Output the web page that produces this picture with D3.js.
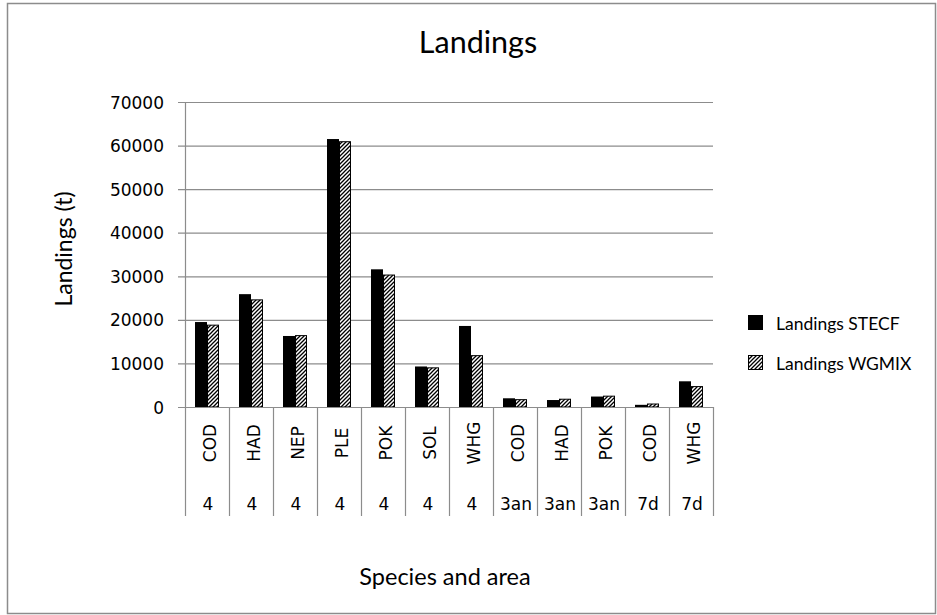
<!DOCTYPE html>
<html><head><meta charset="utf-8">
<script src="https://cdn.jsdelivr.net/npm/d3@7"></script>
<style>body{margin:0;background:#fff}svg{display:block}</style>
</head><body>
<svg id="c" width="937" height="615"></svg>
<script>
const species = ["COD","HAD","NEP","PLE","POK","SOL","WHG","COD","HAD","POK","COD","WHG"];
const areas = ["4","4","4","4","4","4","4","3an","3an","3an","7d","7d"];
const stecf = [19500,25900,16300,61500,31600,9300,18600,2000,1600,2400,500,5900];
const wgmix = [18900,24700,16500,61000,30400,9100,11900,1800,1900,2600,800,4800];
const yTicks = [0,10000,20000,30000,40000,50000,60000,70000];
const seriesNames = ["Landings STECF","Landings WGMIX"];

const svg = d3.select("#c");
const font = "'DejaVu Sans', Verdana, sans-serif";
const tfont = "Lato, 'Open Sans', sans-serif";

svg.append("rect").attr("x",7.5).attr("y",3.5).attr("width",928).attr("height",610)
  .attr("fill","#fff").attr("stroke","#8c8c8c").attr("stroke-width",1.5);

const defs = svg.append("defs");
const pat = defs.append("pattern").attr("id","hatch").attr("patternUnits","userSpaceOnUse")
  .attr("width",4).attr("height",4);
pat.append("rect").attr("width",4).attr("height",4).attr("fill","#fff");
pat.append("path").attr("d","M-1,1 l2,-2 M0,4 l4,-4 M3,5 l2,-2").attr("stroke","#000").attr("stroke-width",1.3);

const L = 185, R = 713, T = 102, B = 407;
const x = d3.scaleBand().domain(d3.range(species.length)).range([L,R]);
const y = d3.scaleLinear().domain([0,70000]).range([B,T]);

// gridlines
svg.append("g").selectAll("line").data(yTicks).join("line")
  .attr("x1",L-7).attr("x2",R).attr("y1",d=>y(d)+0.5).attr("y2",d=>y(d)+0.5)
  .attr("stroke","#8c8c8c").attr("stroke-width",1.2);
// y axis line
svg.append("line").attr("x1",L+0.5).attr("x2",L+0.5).attr("y1",T).attr("y2",B)
  .attr("stroke","#8c8c8c").attr("stroke-width",1.2);
// y tick labels
svg.append("g").selectAll("text").data(yTicks).join("text")
  .attr("x",164).attr("y",d=>y(d)+6.5).attr("text-anchor","end")
  .attr("font-family",font).attr("font-size",17).attr("fill","#000").text(d=>d);

// bars
const bw = 12;
const g = svg.append("g");
g.selectAll("rect.s").data(stecf).join("rect").attr("class","s")
  .attr("x",(d,i)=>x(i)+x.bandwidth()/2-bw).attr("y",d=>y(d))
  .attr("width",bw).attr("height",d=>B-y(d)).attr("fill","#000");
g.selectAll("rect.w").data(wgmix).join("rect").attr("class","w")
  .attr("x",(d,i)=>x(i)+x.bandwidth()/2+0.5).attr("y",d=>y(d)+0.5)
  .attr("width",bw-1).attr("height",d=>Math.max(0,B-y(d)-0.5)).attr("fill","url(#hatch)")
  .attr("stroke","#000").attr("stroke-width",1);

// x separators
svg.append("g").selectAll("line").data(d3.range(species.length+1)).join("line")
  .attr("x1",i=>(i<species.length?x(i):R)+0.5).attr("x2",i=>(i<species.length?x(i):R)+0.5)
  .attr("y1",B).attr("y2",516).attr("stroke","#8c8c8c").attr("stroke-width",1.2);
svg.append("line").attr("x1",L).attr("x2",R).attr("y1",B+0.5).attr("y2",B+0.5)
  .attr("stroke","#8c8c8c").attr("stroke-width",1.2);

// species labels
svg.append("g").selectAll("text").data(species).join("text")
  .attr("transform",(d,i)=>`translate(${x(i)+x.bandwidth()/2+8.5},443) rotate(-90)`)
  .attr("text-anchor","middle").attr("font-family",font).attr("font-size",17).text(d=>d);
// area labels
svg.append("g").selectAll("text").data(areas).join("text")
  .attr("x",(d,i)=>x(i)+x.bandwidth()/2+1).attr("y",510)
  .attr("text-anchor","middle").attr("font-family",font).attr("font-size",17).text(d=>d);

// titles
svg.append("text").attr("x",478).attr("y",53).attr("text-anchor","middle")
  .attr("font-family",tfont).attr("font-size",30.5).text("Landings");
svg.append("text").attr("transform","translate(72,249) rotate(-90)").attr("text-anchor","middle")
  .attr("font-family",tfont).attr("font-size",23).text("Landings (t)");
svg.append("text").attr("x",445).attr("y",585).attr("text-anchor","middle")
  .attr("font-family",tfont).attr("font-size",23.5).text("Species and area");

// legend
const lg = svg.append("g");
seriesNames.forEach((n,i)=>{
  const yy = 330 + i*40;
  lg.append("rect").attr("x",748.5).attr("y",yy-14.5).attr("width",14).attr("height",14)
    .attr("fill",i==0?"#000":"url(#hatch)").attr("stroke","#000");
  lg.append("text").attr("x",776).attr("y",yy).attr("font-family",tfont).attr("font-size",17.5).text(n);
});
</script>
</body></html>
